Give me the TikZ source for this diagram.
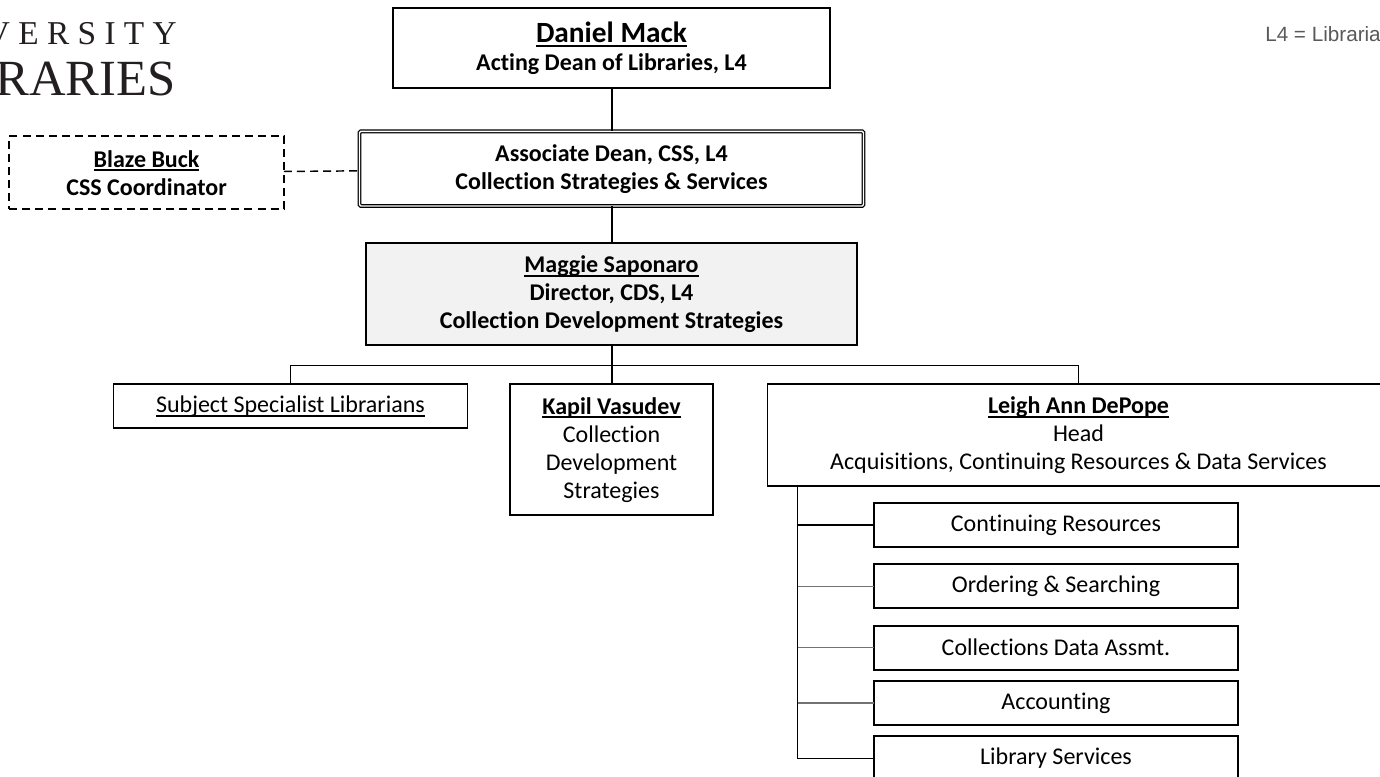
\documentclass[tikz,border=0pt]{standalone}
\usepackage{fontspec}
\setmainfont[Ligatures=NoCommon]{Carlito}
\newfontfamily\logofont[LetterSpace=25]{Liberation Serif}
\newfontfamily\logotwofont{Liberation Serif}
\newfontfamily\notefont{Liberation Sans}
\newcommand*{\sizeA}{\fontsize{18pt}{21pt}\selectfont}
\newcommand*{\sizeB}{\fontsize{22pt}{24pt}\selectfont}
\newcommand*{\lined}[1]{\setbox0=\hbox{#1}\leavevmode\copy0\llap{\smash{\rule[-3.2pt]{\wd0}{1.4pt}}}}
\usetikzlibrary{positioning}
\definecolor{logoink}{HTML}{231F20}
\definecolor{noteink}{HTML}{595959}
\tikzstyle{block} = [draw, rectangle, align=center, outer sep=0pt, inner sep=0pt, line width=1.3pt, font=\sizeA]
\tikzstyle{head} = [block, font=\sizeA\bfseries]
\tikzstyle{unit} = [block, minimum width=273pt, minimum height=33pt]
\tikzstyle{path} = [line width=1.5pt]
\tikzstyle{bus} = [line width=1.1pt]
\tikzstyle{faint} = [line width=1pt, draw=black!55]
\tikzstyle{dashes} = [dash pattern=on 6pt off 3.8pt]
\begin{document}
\begin{tikzpicture}[x=0.75pt, y=0.75pt]
    \useasboundingbox (0,0) rectangle (1380,-776);

    % Logo and note.
    \node (logoa) [anchor=east, inner sep=0pt, text=logoink, font=\logofont\fontsize{25pt}{25pt}\selectfont] at (177,-34) {VERSITY};
    \node (logob) [anchor=east, inner sep=0pt, text=logoink, font=\logotwofont\fontsize{38pt}{38pt}\selectfont] at (176,-79) {RARIES};
    \node (note) [anchor=west, inner sep=0pt, text=noteink, font=\notefont\fontsize{15.5pt}{18pt}\selectfont] at (1265,-34) {L4 = Libraria};

    % Top of the chart.
    \node (dean) [head, minimum width=328pt, minimum height=60pt] at (611.5,-48) {{\sizeB\lined{Daniel Mack}}\\Acting Dean of Libraries, L4};
    \node (assoc) [head, minimum width=378pt, minimum height=56pt, line width=0.9pt, double, double distance=1.1pt, rounded corners=1pt, below=32.5pt of dean] {Associate Dean, CSS, L4\\Collection Strategies \& Services};
    \node (maggie) [head, fill=black!5, minimum width=368pt, minimum height=76.5pt, below=28pt of assoc] {\lined{Maggie Saponaro}\\Director, CDS, L4\\Collection Development Strategies};
    \node (blaze) [head, dashes, minimum width=206pt, minimum height=54.75pt, left=56.7pt of assoc, yshift=-3pt] {\lined{Blaze Buck}\\CSS Coordinator};

    % Second row.
    \node (kapil) [block, anchor=north, minimum width=152pt, minimum height=98pt, below=29.25pt of maggie] {\textbf{\lined{Kapil Vasudev}}\\Collection\\Development\\Strategies};
    \node (subject) [block, anchor=north east, minimum width=265.5pt, minimum height=33pt] at ([xshift=-32pt]kapil.north west) {\lined{Subject Specialist Librarians}};
    \node (leigh) [block, anchor=north west, minimum width=466.5pt, minimum height=76.5pt] at ([xshift=41pt]kapil.north east) {\textbf{\lined{Leigh Ann DePope}}\\Head\\Acquisitions, Continuing Resources \& Data Services};

    % Units.
    \node (cont) [unit, anchor=north west] at (874,-503) {Continuing Resources};
    \node (order) [unit, below=13pt of cont] {Ordering \& Searching};
    \node (coll) [unit, below=13pt of order] {Collections Data Assmt.};
    \node (acct) [unit, below=8.5pt of coll] {Accounting};
    \node (lib) [unit, below=8.5pt of acct] {Library Services};

    % Connectors.
    \coordinate [below=15pt of maggie] (bar);
    \coordinate [right=22.5pt of leigh.south west] (spine);
    \draw [path] (dean) -- (assoc);
    \draw [path] (assoc) -- (maggie);
    \draw [path] (maggie) -- (kapil);
    \draw [bus] (subject.north) |- (bar) -| (leigh.north);
    \draw [bus, dashes] (blaze) -- (assoc);
    \draw [bus] (spine) |- (lib);
    \draw [bus] (spine |- cont.west) -- (cont);
    \foreach\i in {order, coll, acct} {
        \draw [faint] (spine |- \i.west) -- (\i);
    }
\end{tikzpicture}
\end{document}
